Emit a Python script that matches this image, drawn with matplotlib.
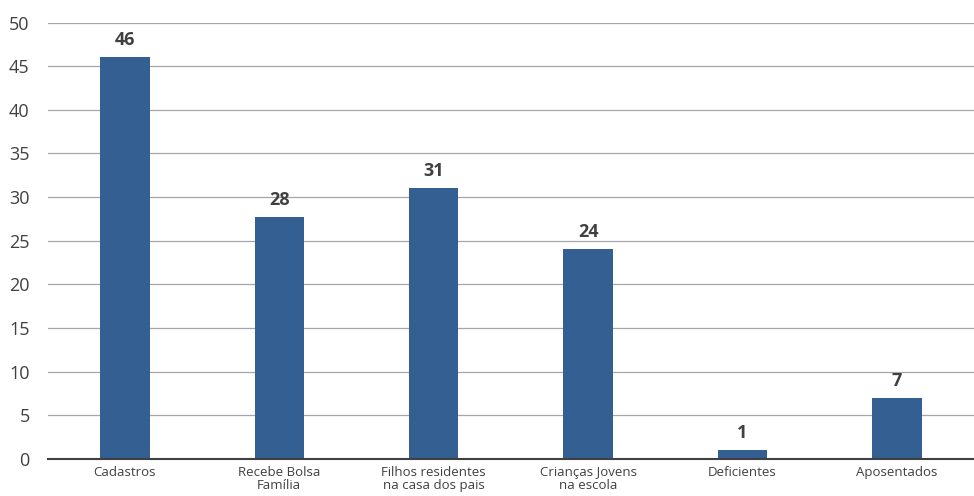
import matplotlib.pyplot as plt

categories = ["Cadastros", "Recebe Bolsa\nFamília", "Filhos residentes\nna casa dos pais",
              "Crianças Jovens\nna escola", "Deficientes", "Aposentados"]
values = [46, 27.7, 31, 24, 1, 7]

plt.rcParams['font.family'] = ['Open Sans', 'DejaVu Sans']

fig = plt.figure(figsize=(9.74, 4.96), dpi=100)
ax = fig.add_axes([0.049, 0.0746, 0.951, 0.88])

x = range(len(categories))
bars = ax.bar(x, values, width=0.32, color='#335f93', zorder=3)
ax.bar_label(bars, fmt='%.0f', padding=6, fontsize=13, fontweight='bold', color='#404040')

ax.set_xlim(-0.5, 5.5)
ax.set_ylim(0, 50)
ax.set_yticks(range(0, 51, 5))
ax.set_xticks(list(x))
ax.set_xticklabels(categories, fontsize=9.5, color='#404040', linespacing=1.0)
ax.tick_params(axis='y', length=0, pad=13, labelsize=13, labelcolor='#404040')
ax.tick_params(axis='x', length=0, pad=5)

ax.grid(axis='y', color='#a6a6a6', linewidth=0.9, zorder=0)
for s in ['top', 'right', 'left']:
    ax.spines[s].set_visible(False)
ax.spines['bottom'].set_color('#404040')
ax.spines['bottom'].set_linewidth(1.5)
ax.spines['bottom'].set_zorder(4)

fig.savefig('out.png', dpi=100)
